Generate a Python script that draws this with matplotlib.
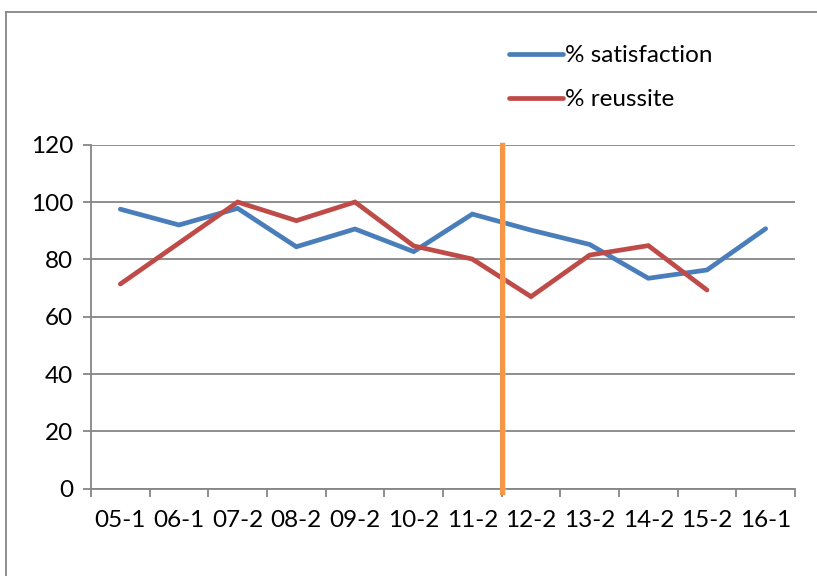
import numpy as np
import matplotlib
matplotlib.use("Agg")
import matplotlib.pyplot as plt
from matplotlib.lines import Line2D

plt.rcParams['font.family'] = ['Lato', 'DejaVu Sans']

periods = ["05-1", "06-1", "07-2", "08-2", "09-2", "10-2", "11-2",
           "12-2", "13-2", "14-2", "15-2", "16-1"]
satisfaction = [97.5, 92.0, 97.8, 84.4, 90.6, 82.7, 95.8, 90.2, 85.2, 73.4, 76.3, 90.7]
reussite = [71.4, 85.7, 100.0, 93.5, 100.0, 84.7, 80.1, 67.0, 81.5, 84.8, 69.3, np.nan]
split_after = "11-2"

grey = "#868686"
fs = 17.5
fig = plt.figure(figsize=(8.17, 5.76), dpi=100)
ax = fig.add_axes([91/817, 1-488.7/576, (795-91)/817, (488.7-144.7)/576])

x = np.arange(len(periods))
ax.plot(x, satisfaction, color="#4A7EBB", lw=3.4, solid_capstyle="round",
        solid_joinstyle="miter", label="% satisfaction", zorder=3)
ax.plot(x, reussite, color="#BE4B48", lw=3.4, solid_capstyle="round",
        solid_joinstyle="miter", label="% reussite", zorder=3)

# separator between the two periods
xs = periods.index(split_after) + 0.5
ax.plot([xs + 0.03, xs + 0.03], [120, -1.2], color="#d8d8d8", lw=4, alpha=0.6,
        clip_on=False, zorder=4)
ax.plot([xs, xs], [120, -1.2], color="#F79646", lw=3.6, clip_on=False, zorder=5)

ax.set_xlim(-0.5, len(periods) - 0.5)
ax.set_ylim(0, 120)
ax.set_yticks(range(0, 121, 20))
ax.yaxis.grid(True, color=grey, lw=1.3)
ax.set_axisbelow(True)

ax.set_xticks(np.arange(-0.5, len(periods)), labels=[])
ax.set_xticks(x, labels=periods, minor=True)
ax.tick_params(axis='x', which='major', length=6, width=1.3, color=grey, direction='out')
ax.tick_params(axis='x', which='minor', length=0, pad=15, labelsize=fs)
ax.tick_params(axis='y', length=6, width=1.3, color=grey, pad=7, labelsize=fs)

for s in ["top", "right"]:
    ax.spines[s].set_visible(False)
for s in ["left", "bottom"]:
    ax.spines[s].set_color(grey)
    ax.spines[s].set_linewidth(1.3)

handles = [Line2D([], [], color="#4A7EBB", lw=3.4, solid_capstyle="round"),
           Line2D([], [], color="#BE4B48", lw=3.4, solid_capstyle="round")]
fig.legend(handles, ["% satisfaction", "% reussite"], loc="upper left",
           bbox_to_anchor=(497/817, 1-33/576), frameon=False, fontsize=fs,
           handlelength=2.2, handletextpad=0.1, labelspacing=0.95, borderpad=0)

# outer chart frame
fig.add_artist(Line2D([6/817, 6/817], [0, 1-12/576], color=grey, lw=1.3,
                      transform=fig.transFigure))
fig.add_artist(Line2D([6/817, 1], [1-12/576, 1-12/576], color=grey, lw=1.3,
                      transform=fig.transFigure))

fig.savefig("out.png", dpi=100)
